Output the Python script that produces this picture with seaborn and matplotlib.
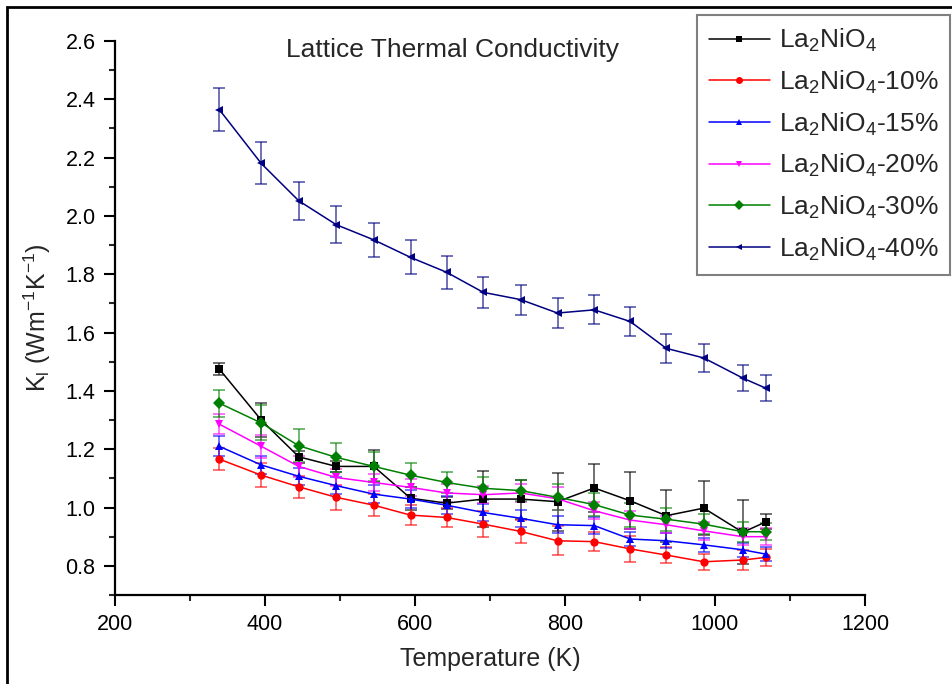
import numpy as np
import pandas as pd
import seaborn as sns
import matplotlib
matplotlib.use("Agg")
import matplotlib.pyplot as plt
from matplotlib.patches import Rectangle

# ---------------- data ----------------
temperature = [339, 395, 445, 495, 545, 594, 642, 691, 741, 790, 839, 887, 935, 985, 1037, 1068]

series_names = [r"La$_2$NiO$_4$", r"La$_2$NiO$_4$-10%", r"La$_2$NiO$_4$-15%",
                r"La$_2$NiO$_4$-20%", r"La$_2$NiO$_4$-30%", r"La$_2$NiO$_4$-40%"]

k_pure = [1.475, 1.300, 1.174, 1.141, 1.141, 1.032, 1.015, 1.029, 1.029, 1.020, 1.067, 1.023, 0.972, 0.998, 0.915, 0.951]
k_10 = [1.166, 1.111, 1.071, 1.035, 1.008, 0.974, 0.966, 0.943, 0.918, 0.886, 0.883, 0.858, 0.837, 0.814, 0.820, 0.829]
k_15 = [1.210, 1.146, 1.107, 1.075, 1.046, 1.029, 1.008, 0.983, 0.963, 0.941, 0.938, 0.892, 0.886, 0.872, 0.855, 0.840]
k_20 = [1.286, 1.210, 1.141, 1.103, 1.086, 1.069, 1.050, 1.044, 1.050, 1.030, 0.989, 0.957, 0.941, 0.920, 0.900, 0.900]
k_30 = [1.358, 1.290, 1.212, 1.172, 1.141, 1.111, 1.086, 1.066, 1.058, 1.035, 1.010, 0.974, 0.960, 0.943, 0.917, 0.917]
k_40 = [2.365, 2.180, 2.052, 1.970, 1.918, 1.858, 1.807, 1.738, 1.713, 1.667, 1.678, 1.638, 1.546, 1.513, 1.444, 1.409]

err_pure = [0.020, 0.057, 0.020, 0.020, 0.055, 0.040, 0.020, 0.097, 0.067, 0.100, 0.082, 0.098, 0.089, 0.092, 0.110, 0.026]
err_10 = [0.038, 0.040, 0.038, 0.043, 0.037, 0.033, 0.033, 0.045, 0.040, 0.050, 0.032, 0.045, 0.027, 0.028, 0.035, 0.030]
err_15 = [0.034, 0.030, 0.030, 0.030, 0.030, 0.030, 0.030, 0.030, 0.030, 0.030, 0.030, 0.025, 0.025, 0.025, 0.025, 0.025]
err_20 = [0.035, 0.040, 0.035, 0.030, 0.030, 0.030, 0.030, 0.030, 0.030, 0.040, 0.030, 0.030, 0.030, 0.030, 0.030, 0.030]
err_30 = [0.046, 0.060, 0.057, 0.050, 0.050, 0.040, 0.035, 0.040, 0.035, 0.045, 0.040, 0.040, 0.040, 0.035, 0.035, 0.030]
err_40 = [0.075, 0.072, 0.065, 0.063, 0.059, 0.058, 0.056, 0.054, 0.051, 0.052, 0.050, 0.050, 0.050, 0.049, 0.046, 0.045]

values = [k_pure, k_10, k_15, k_20, k_30, k_40]
errors = [err_pure, err_10, err_15, err_20, err_30, err_40]

colors = ["#000000", "#ff0000", "#0000ff", "#ff00ff", "#008000", "#000080"]
marker_list = ["s", "o", "^", "v", "D", "<"]

x_ticks = [200, 400, 600, 800, 1000, 1200]
y_ticks = [0.8, 1.0, 1.2, 1.4, 1.6, 1.8, 2.0, 2.2, 2.4, 2.6]

# ---------------- style ----------------
sns.set_theme(style="ticks")
plt.rcParams["font.family"] = ["Liberation Sans", "DejaVu Sans"]
plt.rcParams["mathtext.fontset"] = "custom"
plt.rcParams["mathtext.rm"] = "Liberation Sans"
plt.rcParams["mathtext.it"] = "Liberation Sans:italic"
plt.rcParams["mathtext.bf"] = "Liberation Sans:bold"

rows = []
for name, vals in zip(series_names, values):
    for t, v in zip(temperature, vals):
        rows.append({"T": t, "K": v, "sample": name})
df = pd.DataFrame(rows)

W, H = 952, 684
fig = plt.figure(figsize=(W / 100, H / 100), dpi=100)
ax = fig.add_axes([115 / W, 1 - 595 / H, 750 / W, (595 - 41) / H])

palette = dict(zip(series_names, colors))
mk = dict(zip(series_names, marker_list))

# error bars
for name, vals, errs, c in zip(series_names, values, errors, colors):
    ax.errorbar(temperature, vals, yerr=errs, fmt="none", ecolor=c, alpha=0.6,
                elinewidth=1.3, capsize=4, capthick=1.3, zorder=2)

sns.lineplot(data=df, x="T", y="K", hue="sample", style="sample",
             hue_order=series_names, style_order=series_names,
             palette=palette, markers=mk, dashes=False, linewidth=1.1,
             markersize=6, markeredgewidth=0, ax=ax, legend="full", zorder=3,
             sort=False)

handles, labels = ax.get_legend_handles_labels()
if ax.get_legend() is not None:
    ax.get_legend().remove()
hl = [(h, l) for h, l in zip(handles, labels) if l in series_names]
for h, _ in hl:
    h.set_markersize(5)
    h.set_linewidth(1.1)
leg = fig.legend([h for h, _ in hl], [l for _, l in hl],
                 loc="upper left", bbox_to_anchor=(697 / W, 1 - 15 / H),
                 bbox_transform=fig.transFigure, frameon=True, fancybox=False,
                 edgecolor="#808080", framealpha=1, fontsize=19,
                 handlelength=2.3, handletextpad=0.35, borderpad=0.45,
                 labelspacing=0.55, borderaxespad=0)
leg.get_frame().set_linewidth(1.5)

ax.set_xlim(200, 1200)
ax.set_ylim(0.7, 2.6)
ax.set_xticks(x_ticks)
ax.set_yticks(y_ticks)
ax.set_xticklabels([str(v) for v in x_ticks])
ax.set_yticklabels([f"{v:.1f}" for v in y_ticks])
ax.set_xticks([300, 500, 700, 900, 1100], minor=True)
ax.set_yticks(np.arange(0.7, 2.61, 0.1), minor=True)
ax.tick_params(axis="both", which="major", direction="out", length=8, width=1.5,
               labelsize=15.5, pad=6, colors="black")
ax.tick_params(axis="both", which="minor", direction="out", length=4, width=1.5)
for s in ["top", "right"]:
    ax.spines[s].set_visible(False)
for s in ["left", "bottom"]:
    ax.spines[s].set_linewidth(1.6)
    ax.spines[s].set_color("black")

ax.set_xlabel("Temperature (K)", fontsize=18, labelpad=8)
ax.set_ylabel(r"K$_\mathrm{l}$ (Wm$^{\mathrm{-1}}$K$^{\mathrm{-1}}$)", fontsize=18, labelpad=9)

fig.text(453 / W, 1 - 50 / H, "Lattice Thermal Conductivity", fontsize=19,
         ha="center", va="center")

# figure border
fig.patches.append(Rectangle((7 / W, -0.1), 2.0, 1.1 - 7 / H, transform=fig.transFigure,
                             fill=False, edgecolor="black", linewidth=2, clip_on=False))

fig.savefig("out.png", dpi=100)
